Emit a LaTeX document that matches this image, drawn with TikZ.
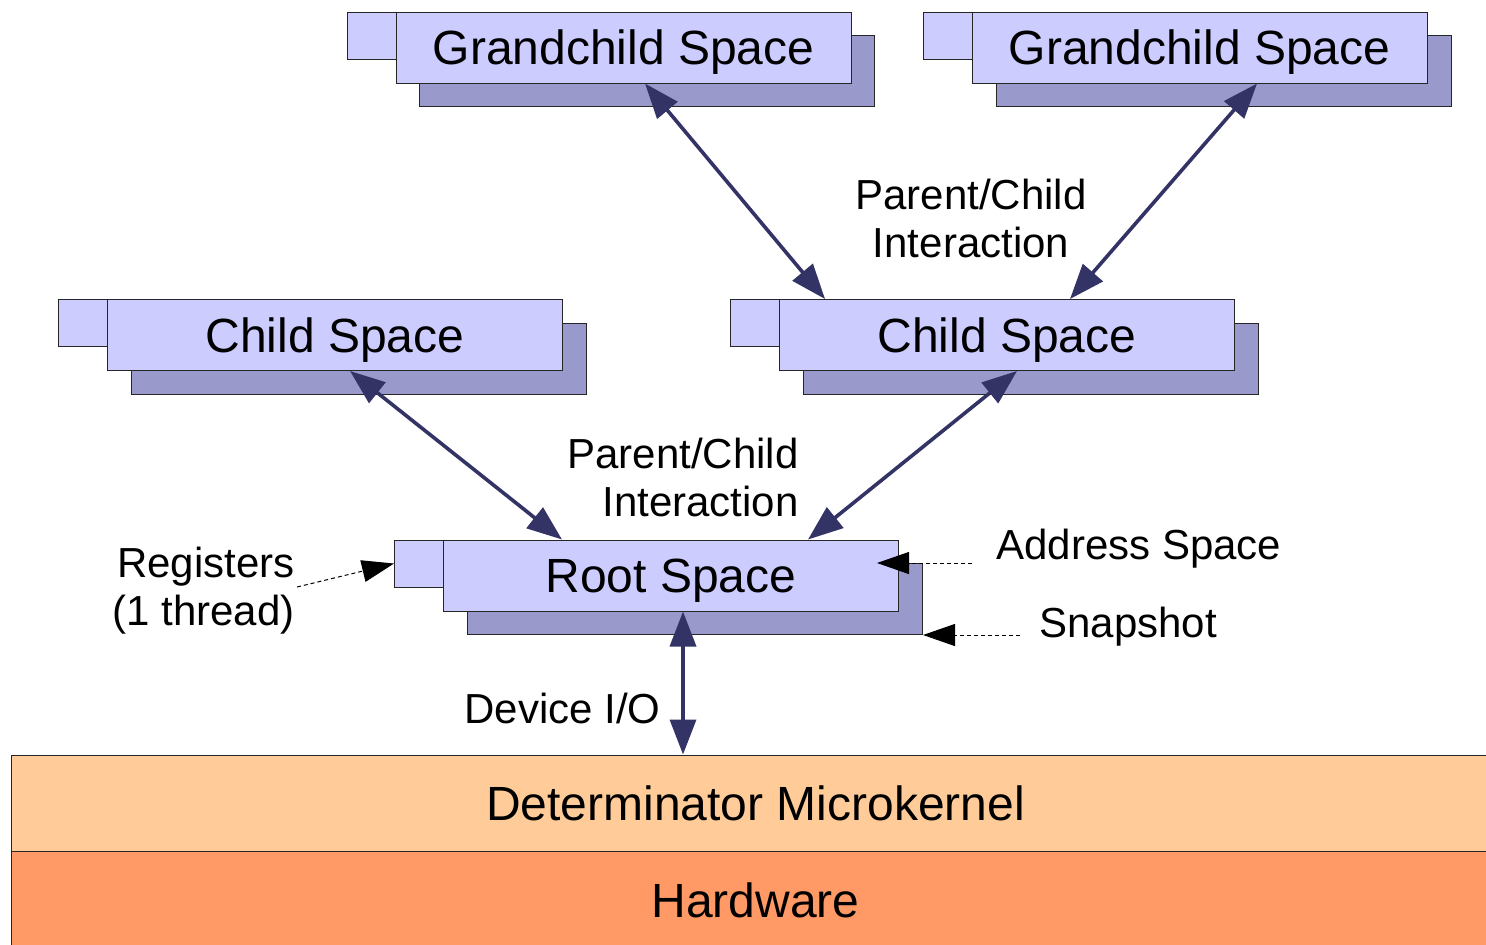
\documentclass[tikz,border=0pt]{standalone}
\usepackage{fontspec}
\setmainfont{Liberation Sans}
\usetikzlibrary{positioning}
\usetikzlibrary{arrows.meta}
\definecolor{spacefill}{HTML}{CCCCFF}
\definecolor{spaceshade}{HTML}{9999CC}
\definecolor{arrowblue}{HTML}{333366}
\definecolor{kernelfill}{HTML}{FFCC99}
\definecolor{hwfill}{HTML}{FF9966}

\begin{document}
\begin{tikzpicture}[x=0.5pt, y=-0.5pt,
    main/.style={rectangle, draw=black!85, fill=spacefill, line width=0.5pt, minimum width=227.5pt, minimum height=35.5pt, inner sep=0pt, text depth=0pt, font=\fontsize{24}{28}\selectfont},
    shadowbox/.style={rectangle, draw=black!85, fill=spaceshade, line width=0.5pt, minimum width=227.5pt, minimum height=35.5pt, inner sep=0pt},
    tabbox/.style={rectangle, draw=black!85, fill=spacefill, line width=0.5pt, minimum width=24.5pt, minimum height=23.5pt, inner sep=0pt},
    kernel/.style={rectangle, draw=black!85, line width=0.5pt, minimum width=744.5pt, inner sep=0pt, text depth=0pt, font=\fontsize{24}{28}\selectfont},
    lbl/.style={inner sep=1pt, font=\fontsize{21}{24}\selectfont},
    ar/.style={{Triangle[length=17.5pt,width=13pt]}-{Triangle[length=17.5pt,width=13pt]}, draw=arrowblue, fill=arrowblue, line width=1.8pt},
    dar/.style={-{Triangle[length=16pt,width=11pt]}, dash pattern=on 2pt off 1.5pt, line width=0.5pt}]
  \useasboundingbox (0,0) rectangle (1486,944);

  % grandchild spaces
  \node[shadowbox] (gc1sh) at (647,71) {};
  \node[tabbox] (gc1tab) at (371.5,35.5) {};
  \node[main] (gc1) at (623.5,47.5) {Grandchild Space};
  \node[shadowbox] (gc2sh) at (1223.5,71) {};
  \node[tabbox] (gc2tab) at (948,35.5) {};
  \node[main] (gc2) at (1199.5,47.5) {Grandchild Space};

  % child spaces
  \node[shadowbox] (c1sh) at (359,359) {};
  \node[tabbox] (c1tab) at (83,323) {};
  \node[main] (c1) at (335,335) {Child Space};
  \node[shadowbox] (c2sh) at (1031,359) {};
  \node[tabbox] (c2tab) at (755,323) {};
  \node[main] (c2) at (1007,335) {Child Space};

  % root space
  \node[shadowbox] (rootsh) at (695,599) {};
  \node[tabbox] (roottab) at (419,563.5) {};
  \node[main] (root) at (671,575.5) {Root Space};

  % kernel and hardware
  \node[kernel, fill=kernelfill, minimum height=48pt] (mk) at (755.5,803) {Determinator Microkernel};
  \node[kernel, fill=hwfill, minimum height=49pt] (hw) at (755.5,900) {Hardware};

  % labels
  \node[lbl, align=center] (pc1) at (971,218) {Parent/Child\\Interaction};
  \node[lbl, align=right, anchor=east] (pc2) at (801,477) {Parent/Child\\Interaction};
  \node[lbl, align=right, anchor=east] (regs) at (297,591) {Registers\\(1 thread)};
  \node[lbl, anchor=west] (addr) at (994,549) {Address Space};
  \node[lbl, anchor=west] (snap) at (1037,627) {Snapshot};
  \node[lbl, anchor=east] (dev) at (663,708) {Device I/O};
  \coordinate (addrend) at (972,563);
  \coordinate (snapend) at (1020,635);

  % interactions
  \draw[ar] ([xshift=10.75pt]gc1.south) -- ([xshift=-91pt]c2.north);
  \draw[ar] ([xshift=28.75pt]gc2.south) -- ([xshift=31.5pt]c2.north);
  \draw[ar] ([xshift=7.5pt]c1.south) -- ([xshift=-54.5pt]root.north);
  \draw[ar] ([xshift=5pt]c2.south) -- ([xshift=68.5pt]root.north);
  \draw[ar] ([xshift=6pt]root.south) -- ([xshift=6pt]root.south |- mk.north);

  % pointers
  \draw[dar] ([shift={(0pt,2pt)}]regs.east) -- (roottab.west);
  \draw[dar] (addrend) -- ([xshift=-11pt]addrend -| root.east);
  \draw[dar] (snapend) -- (rootsh.south east);
\end{tikzpicture}
\end{document}
